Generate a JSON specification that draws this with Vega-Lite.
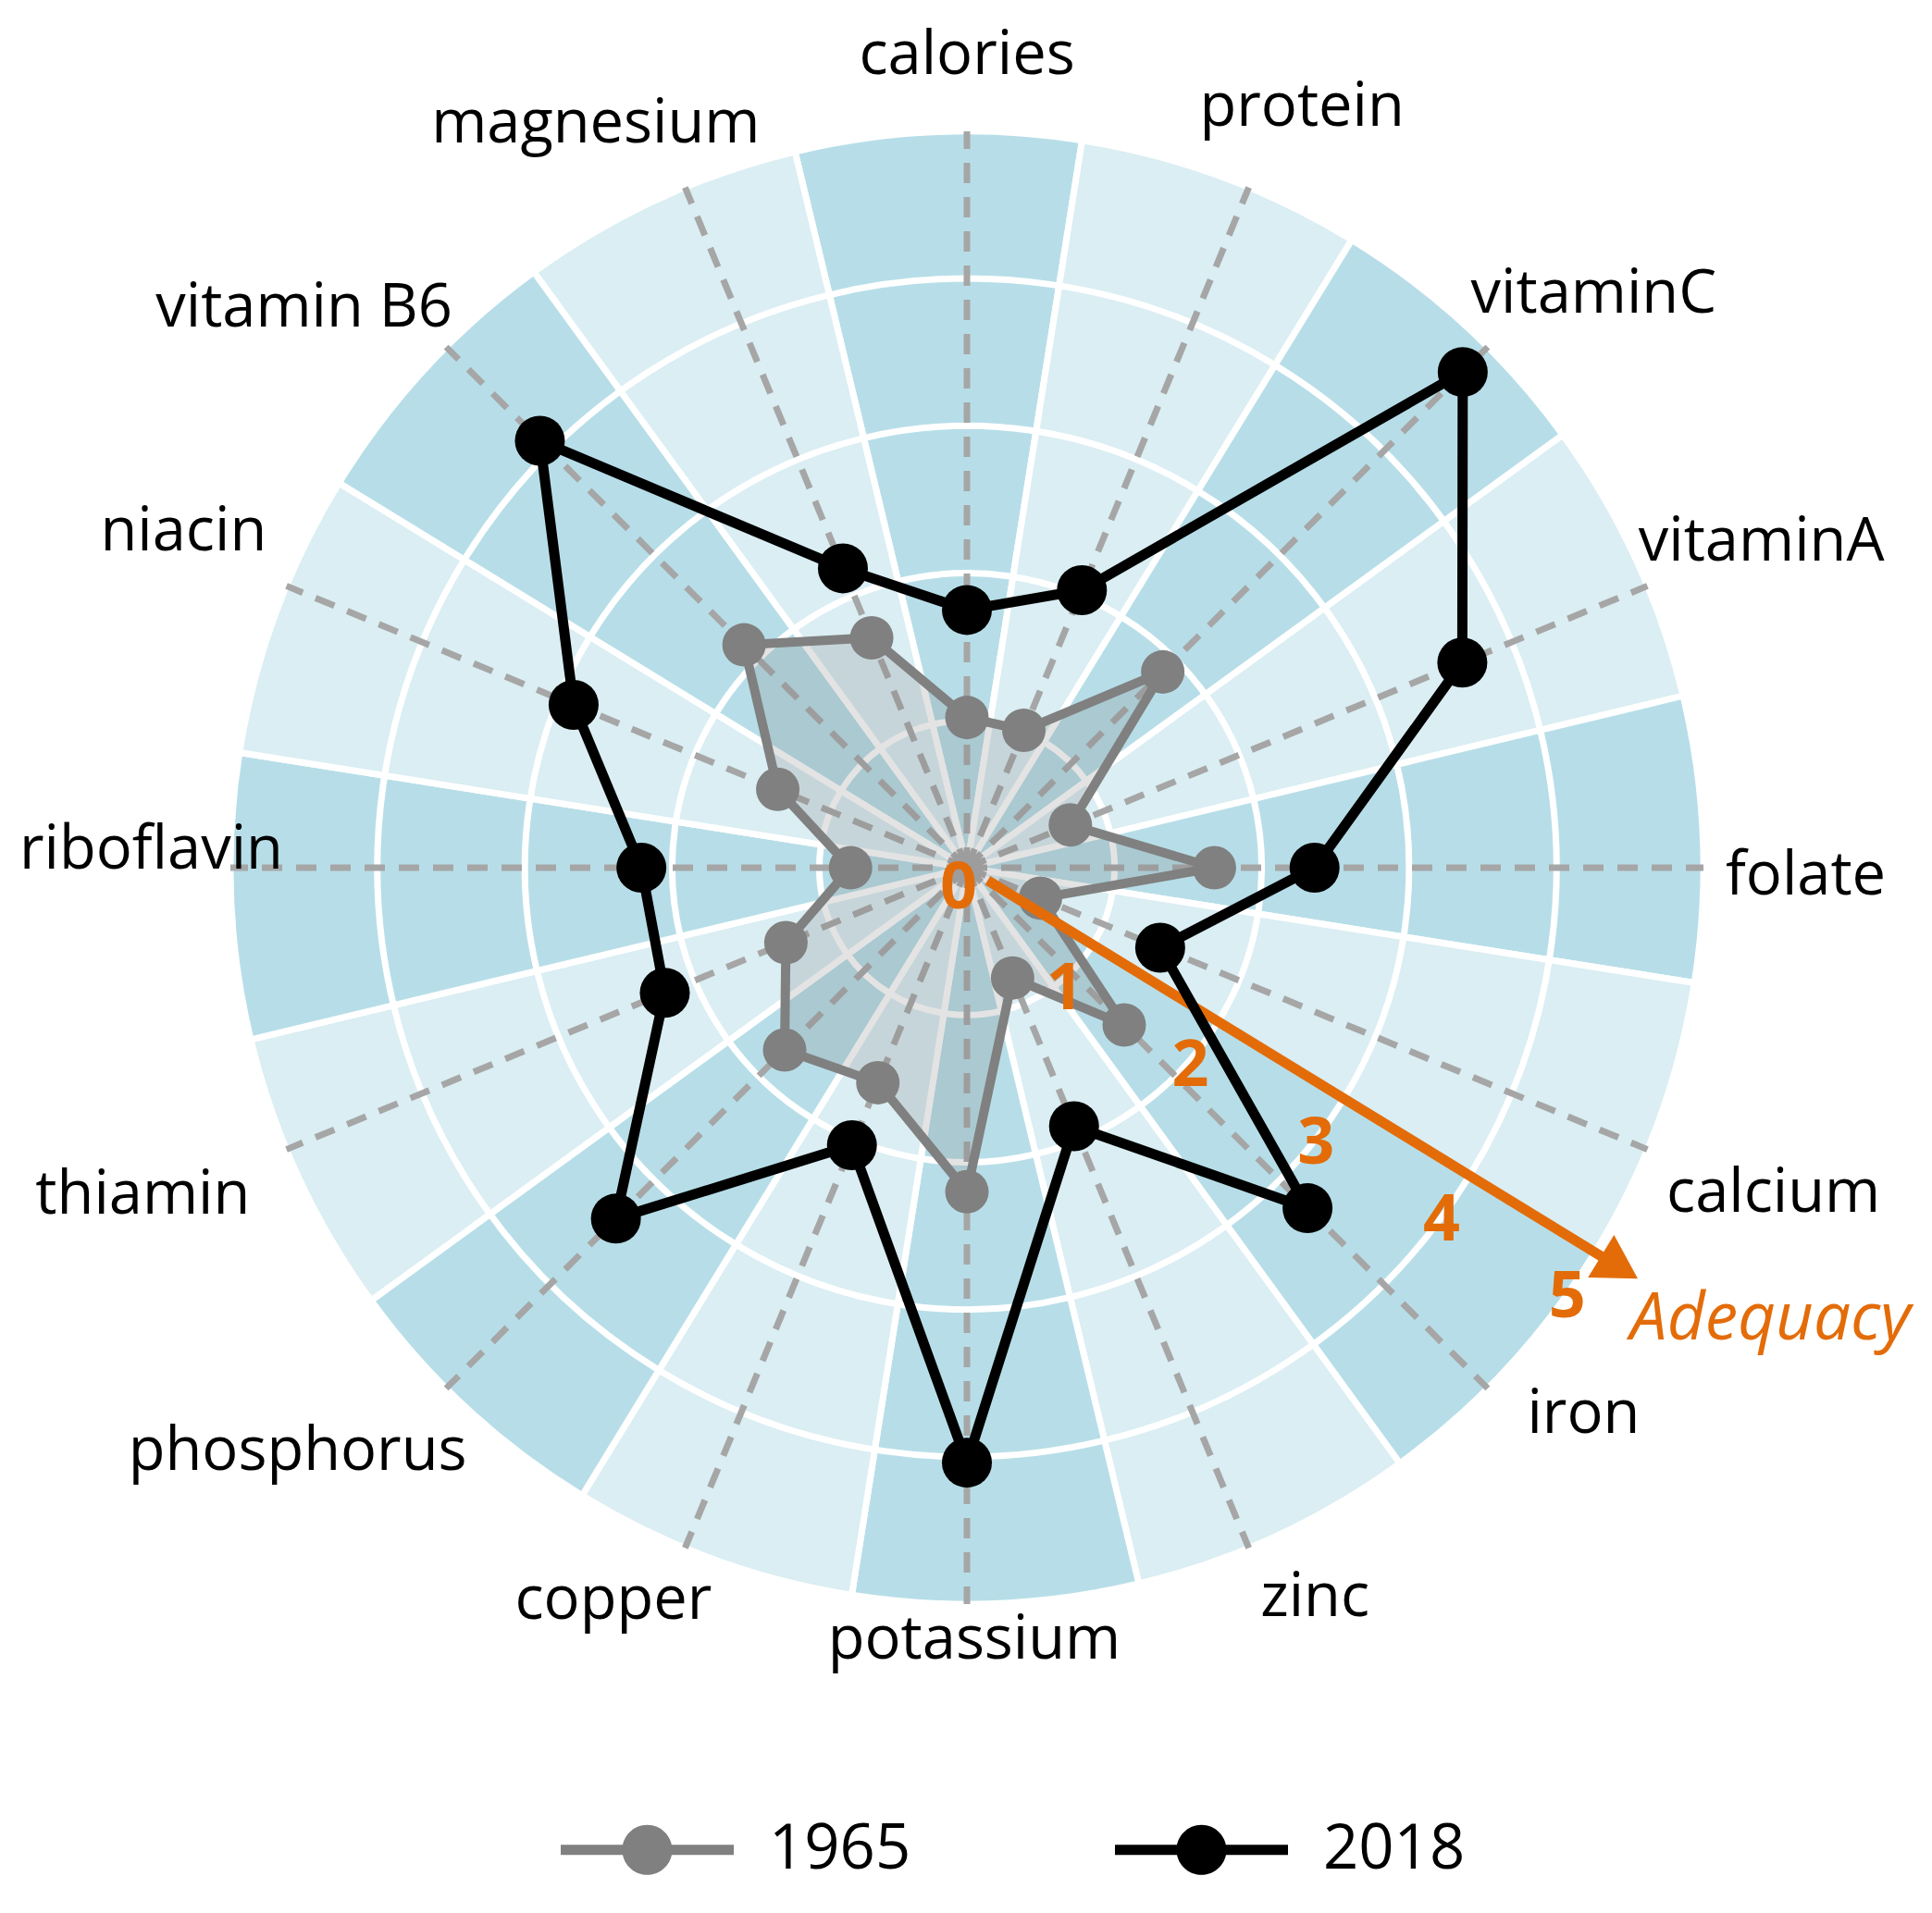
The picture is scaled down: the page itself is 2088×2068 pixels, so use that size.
{
  "$schema": "https://vega.github.io/schema/vega-lite/v6.json",
  "width": 2088,
  "height": 2068,
  "autosize": {"type": "none"},
  "padding": 0,
  "background": "white",
  "config": {"view": {"stroke": null}, "font": "Open Sans"},
  "datasets": {
    "cats": [
      {"idx": 0, "nutrient": "calories"},
      {"idx": 1, "nutrient": "protein"},
      {"idx": 2, "nutrient": "vitaminC"},
      {"idx": 3, "nutrient": "vitaminA"},
      {"idx": 4, "nutrient": "folate"},
      {"idx": 5, "nutrient": "calcium"},
      {"idx": 6, "nutrient": "iron"},
      {"idx": 7, "nutrient": "zinc"},
      {"idx": 8, "nutrient": "potassium"},
      {"idx": 9, "nutrient": "copper"},
      {"idx": 10, "nutrient": "phosphorus"},
      {"idx": 11, "nutrient": "thiamin"},
      {"idx": 12, "nutrient": "riboflavin"},
      {"idx": 13, "nutrient": "niacin"},
      {"idx": 14, "nutrient": "vitamin B6"},
      {"idx": 15, "nutrient": "magnesium"}
    ],
    "vals": [
      {"idx": 0, "nutrient": "calories", "year": "1965", "adequacy": 1.02},
      {"idx": 1, "nutrient": "protein", "year": "1965", "adequacy": 1.01},
      {"idx": 2, "nutrient": "vitaminC", "year": "1965", "adequacy": 1.88},
      {"idx": 3, "nutrient": "vitaminA", "year": "1965", "adequacy": 0.76},
      {"idx": 4, "nutrient": "folate", "year": "1965", "adequacy": 1.68},
      {"idx": 5, "nutrient": "calcium", "year": "1965", "adequacy": 0.54},
      {"idx": 6, "nutrient": "iron", "year": "1965", "adequacy": 1.51},
      {"idx": 7, "nutrient": "zinc", "year": "1965", "adequacy": 0.81},
      {"idx": 8, "nutrient": "potassium", "year": "1965", "adequacy": 2.20},
      {"idx": 9, "nutrient": "copper", "year": "1965", "adequacy": 1.58},
      {"idx": 10, "nutrient": "phosphorus", "year": "1965", "adequacy": 1.75},
      {"idx": 11, "nutrient": "thiamin", "year": "1965", "adequacy": 1.33},
      {"idx": 12, "nutrient": "riboflavin", "year": "1965", "adequacy": 0.79},
      {"idx": 13, "nutrient": "niacin", "year": "1965", "adequacy": 1.39},
      {"idx": 14, "nutrient": "vitamin B6", "year": "1965", "adequacy": 2.14},
      {"idx": 15, "nutrient": "magnesium", "year": "1965", "adequacy": 1.69},
      {"idx": 0, "nutrient": "calories", "year": "2018", "adequacy": 1.75},
      {"idx": 1, "nutrient": "protein", "year": "2018", "adequacy": 2.04},
      {"idx": 2, "nutrient": "vitaminC", "year": "2018", "adequacy": 4.76},
      {"idx": 3, "nutrient": "vitaminA", "year": "2018", "adequacy": 3.64},
      {"idx": 4, "nutrient": "folate", "year": "2018", "adequacy": 2.36},
      {"idx": 5, "nutrient": "calcium", "year": "2018", "adequacy": 1.42},
      {"idx": 6, "nutrient": "iron", "year": "2018", "adequacy": 3.27},
      {"idx": 7, "nutrient": "zinc", "year": "2018", "adequacy": 1.90},
      {"idx": 8, "nutrient": "potassium", "year": "2018", "adequacy": 4.04},
      {"idx": 9, "nutrient": "copper", "year": "2018", "adequacy": 2.04},
      {"idx": 10, "nutrient": "phosphorus", "year": "2018", "adequacy": 3.37},
      {"idx": 11, "nutrient": "thiamin", "year": "2018", "adequacy": 2.22},
      {"idx": 12, "nutrient": "riboflavin", "year": "2018", "adequacy": 2.21},
      {"idx": 13, "nutrient": "niacin", "year": "2018", "adequacy": 2.89},
      {"idx": 14, "nutrient": "vitamin B6", "year": "2018", "adequacy": 4.10},
      {"idx": 15, "nutrient": "magnesium", "year": "2018", "adequacy": 2.20}
    ],
    "rings": [{"r": 1}, {"r": 2}, {"r": 3}, {"r": 4}],
    "ticks": [
      {"tick": 0, "label": "0"},
      {"tick": 1, "label": "1"},
      {"tick": 2, "label": "2"},
      {"tick": 3, "label": "3"},
      {"tick": 4, "label": "4"},
      {"tick": 5, "label": "5"}
    ],
    "arrow": [{"from": 0.165, "to": 5.12, "head": 5.195, "tip": 5.34, "title": "Adequacy"}]
  },
  "data": {"name": "cats"},
  "transform": [
    {"calculate": "datum.idx * PI / 8", "as": "ang"},
    {"calculate": "datum.idx + 1", "as": "idx1"},
    {"calculate": "0", "as": "c0"},
    {"calculate": "5", "as": "rOut"},
    {"calculate": "5 * sin(datum.ang)", "as": "ex"},
    {"calculate": "5 * cos(datum.ang)", "as": "ey"},
    {"calculate": "5.6 * sin(datum.ang)", "as": "lx"},
    {"calculate": "5.6 * cos(datum.ang)", "as": "ly"}
  ],
  "layer": [
    {
      "mark": {"type": "arc", "stroke": "white", "strokeWidth": 7},
      "encoding": {
        "x": {"field": "c0", "type": "quantitative", "scale": {"domain": [-6.5641, 6.5515], "nice": false, "zero": false}, "axis": null},
        "y": {"field": "c0", "type": "quantitative", "scale": {"domain": [-7.098, 5.892], "nice": false, "zero": false}, "axis": null},
        "theta": {"field": "idx", "type": "quantitative", "stack": null, "scale": {"domain": [0, 16], "range": [-0.235619, 6.047566], "nice": false, "zero": false}},
        "theta2": {"field": "idx1"},
        "radius": {"field": "rOut", "type": "quantitative", "scale": {"type": "linear", "domain": [0, 5], "range": [0, 796], "zero": true, "nice": false}},
        "radius2": {"field": "c0"},
        "fill": {"condition": {"test": "datum.idx % 2 == 0", "value": "#B7DEE8"}, "value": "#DAEEF3"}
      }
    },
    {
      "data": {"name": "rings"},
      "transform": [
        {"calculate": "0", "as": "c0"},
        {"calculate": "16", "as": "full"}
      ],
      "mark": {"type": "arc", "filled": false, "stroke": "white", "strokeWidth": 7},
      "encoding": {
        "x": {"field": "c0", "type": "quantitative", "scale": {"domain": [-6.5641, 6.5515], "nice": false, "zero": false}, "axis": null},
        "y": {"field": "c0", "type": "quantitative", "scale": {"domain": [-7.098, 5.892], "nice": false, "zero": false}, "axis": null},
        "theta": {"field": "c0", "type": "quantitative", "stack": null, "scale": {"domain": [0, 16], "range": [-0.235619, 6.047566], "nice": false, "zero": false}},
        "theta2": {"field": "full"},
        "radius": {"field": "r", "type": "quantitative", "scale": {"type": "linear", "domain": [0, 5], "range": [0, 796], "zero": true, "nice": false}},
        "radius2": {"field": "r"}
      }
    },
    {
      "mark": {"type": "rule", "stroke": "#A6A6A6", "strokeWidth": 7, "strokeDash": [22, 15]},
      "encoding": {
        "x": {"field": "c0", "type": "quantitative", "scale": {"domain": [-6.5641, 6.5515], "nice": false, "zero": false}, "axis": null},
        "y": {"field": "c0", "type": "quantitative", "scale": {"domain": [-7.098, 5.892], "nice": false, "zero": false}, "axis": null},
        "x2": {"field": "ex"},
        "y2": {"field": "ey"}
      }
    },
    {
      "data": {"name": "vals"},
      "transform": [
        {"filter": "datum.year == '1965'"},
        {"calculate": "datum.adequacy * sin(datum.idx * PI / 8)", "as": "px"},
        {"calculate": "datum.adequacy * cos(datum.idx * PI / 8)", "as": "py"}
      ],
      "mark": {"type": "line", "interpolate": "linear-closed", "fill": "#7F7F7F", "fillOpacity": 0.22, "strokeOpacity": 0},
      "encoding": {
        "x": {"field": "px", "type": "quantitative", "scale": {"domain": [-6.5641, 6.5515], "nice": false, "zero": false}, "axis": null},
        "y": {"field": "py", "type": "quantitative", "scale": {"domain": [-7.098, 5.892], "nice": false, "zero": false}, "axis": null},
        "order": {"field": "idx", "type": "quantitative"}
      }
    },
    {
      "data": {"name": "vals"},
      "transform": [
        {"filter": "datum.year == '1965'"},
        {"calculate": "datum.adequacy * sin(datum.idx * PI / 8)", "as": "px"},
        {"calculate": "datum.adequacy * cos(datum.idx * PI / 8)", "as": "py"}
      ],
      "mark": {"type": "line", "interpolate": "linear-closed", "strokeWidth": 10, "stroke": "#808080"},
      "encoding": {
        "x": {"field": "px", "type": "quantitative", "scale": {"domain": [-6.5641, 6.5515], "nice": false, "zero": false}, "axis": null},
        "y": {"field": "py", "type": "quantitative", "scale": {"domain": [-7.098, 5.892], "nice": false, "zero": false}, "axis": null},
        "order": {"field": "idx", "type": "quantitative"}
      }
    },
    {
      "data": {"name": "vals"},
      "transform": [
        {"filter": "datum.year == '1965'"},
        {"calculate": "datum.adequacy * sin(datum.idx * PI / 8)", "as": "px"},
        {"calculate": "datum.adequacy * cos(datum.idx * PI / 8)", "as": "py"}
      ],
      "mark": {"type": "point", "filled": true, "opacity": 1, "size": 2209, "shape": "circle"},
      "encoding": {
        "x": {"field": "px", "type": "quantitative", "scale": {"domain": [-6.5641, 6.5515], "nice": false, "zero": false}, "axis": null},
        "y": {"field": "py", "type": "quantitative", "scale": {"domain": [-7.098, 5.892], "nice": false, "zero": false}, "axis": null},
        "color": {
          "field": "year", "type": "nominal",
          "scale": {"domain": ["1965", "2018"], "range": ["#808080", "#000000"]},
          "legend": {
            "orient": "none", "legendX": 606, "legendY": 1906, "direction": "horizontal", "title": null,
            "symbolType": "M-1,-0.059L1,-0.059L1,0.059L-1,0.059Z M0.289,0A0.289,0.289 0 1,1 -0.289,0A0.289,0.289 0 1,1 0.289,0Z",
            "symbolSize": 34969, "symbolStrokeWidth": 0, "symbolOpacity": 1,
            "labelFont": "Open Sans", "labelFontSize": 67, "labelColor": "#000000", "labelOffset": 38, "labelLimit": 500,
            "columnPadding": 220, "padding": 0
          }
        }
      }
    },
    {
      "data": {"name": "arrow"},
      "transform": [
        {"calculate": "datum.from * sin(121.5 * PI / 180)", "as": "ax"},
        {"calculate": "datum.from * cos(121.5 * PI / 180)", "as": "ay"},
        {"calculate": "datum.to * sin(121.5 * PI / 180)", "as": "bx"},
        {"calculate": "datum.to * cos(121.5 * PI / 180)", "as": "by"}
      ],
      "mark": {"type": "rule", "stroke": "#E36C09", "strokeWidth": 11},
      "encoding": {
        "x": {"field": "ax", "type": "quantitative", "scale": {"domain": [-6.5641, 6.5515], "nice": false, "zero": false}, "axis": null},
        "y": {"field": "ay", "type": "quantitative", "scale": {"domain": [-7.098, 5.892], "nice": false, "zero": false}, "axis": null},
        "x2": {"field": "bx"},
        "y2": {"field": "by"}
      }
    },
    {
      "data": {"name": "arrow"},
      "transform": [
        {"calculate": "datum.head * sin(121.5 * PI / 180)", "as": "hx"},
        {"calculate": "datum.head * cos(121.5 * PI / 180)", "as": "hy"}
      ],
      "mark": {"type": "point", "shape": "triangle-up", "filled": true, "opacity": 1, "size": 2900, "angle": 121.5, "color": "#E36C09"},
      "encoding": {
        "x": {"field": "hx", "type": "quantitative", "scale": {"domain": [-6.5641, 6.5515], "nice": false, "zero": false}, "axis": null},
        "y": {"field": "hy", "type": "quantitative", "scale": {"domain": [-7.098, 5.892], "nice": false, "zero": false}, "axis": null}
      }
    },
    {
      "data": {"name": "ticks"},
      "transform": [
        {"filter": "datum.tick > 0"},
        {"calculate": "datum.tick * sin(121.5 * PI / 180)", "as": "tx"},
        {"calculate": "datum.tick * cos(121.5 * PI / 180)", "as": "ty"}
      ],
      "mark": {"type": "text", "fontSize": 70, "fontWeight": "bold", "color": "#E36C09", "align": "center", "baseline": "middle", "dx": -30, "dy": 49},
      "encoding": {
        "x": {"field": "tx", "type": "quantitative", "scale": {"domain": [-6.5641, 6.5515], "nice": false, "zero": false}, "axis": null},
        "y": {"field": "ty", "type": "quantitative", "scale": {"domain": [-7.098, 5.892], "nice": false, "zero": false}, "axis": null},
        "text": {"field": "label", "type": "nominal"}
      }
    },
    {
      "data": {"name": "ticks"},
      "transform": [
        {"filter": "datum.tick == 0"},
        {"calculate": "datum.tick * sin(121.5 * PI / 180)", "as": "tx"},
        {"calculate": "datum.tick * cos(121.5 * PI / 180)", "as": "ty"}
      ],
      "mark": {"type": "text", "fontSize": 70, "fontWeight": "bold", "color": "#E36C09", "align": "center", "baseline": "middle", "dx": -9, "dy": 23},
      "encoding": {
        "x": {"field": "tx", "type": "quantitative", "scale": {"domain": [-6.5641, 6.5515], "nice": false, "zero": false}, "axis": null},
        "y": {"field": "ty", "type": "quantitative", "scale": {"domain": [-7.098, 5.892], "nice": false, "zero": false}, "axis": null},
        "text": {"field": "label", "type": "nominal"}
      }
    },
    {
      "data": {"name": "arrow"},
      "transform": [
        {"calculate": "datum.tip * sin(121.5 * PI / 180)", "as": "tx"},
        {"calculate": "datum.tip * cos(121.5 * PI / 180)", "as": "ty"}
      ],
      "mark": {"type": "text", "fontSize": 71, "fontStyle": "italic", "color": "#E36C09", "align": "left", "baseline": "middle", "dx": -8, "dy": 45},
      "encoding": {
        "x": {"field": "tx", "type": "quantitative", "scale": {"domain": [-6.5641, 6.5515], "nice": false, "zero": false}, "axis": null},
        "y": {"field": "ty", "type": "quantitative", "scale": {"domain": [-7.098, 5.892], "nice": false, "zero": false}, "axis": null},
        "text": {"field": "title", "type": "nominal"}
      }
    },
    {
      "data": {"name": "vals"},
      "transform": [
        {"filter": "datum.year == '2018'"},
        {"calculate": "datum.adequacy * sin(datum.idx * PI / 8)", "as": "px"},
        {"calculate": "datum.adequacy * cos(datum.idx * PI / 8)", "as": "py"}
      ],
      "mark": {"type": "line", "interpolate": "linear-closed", "strokeWidth": 11, "stroke": "#000000"},
      "encoding": {
        "x": {"field": "px", "type": "quantitative", "scale": {"domain": [-6.5641, 6.5515], "nice": false, "zero": false}, "axis": null},
        "y": {"field": "py", "type": "quantitative", "scale": {"domain": [-7.098, 5.892], "nice": false, "zero": false}, "axis": null},
        "order": {"field": "idx", "type": "quantitative"}
      }
    },
    {
      "data": {"name": "vals"},
      "transform": [
        {"filter": "datum.year == '2018'"},
        {"calculate": "datum.adequacy * sin(datum.idx * PI / 8)", "as": "px"},
        {"calculate": "datum.adequacy * cos(datum.idx * PI / 8)", "as": "py"}
      ],
      "mark": {"type": "point", "filled": true, "opacity": 1, "size": 2916, "shape": "circle"},
      "encoding": {
        "x": {"field": "px", "type": "quantitative", "scale": {"domain": [-6.5641, 6.5515], "nice": false, "zero": false}, "axis": null},
        "y": {"field": "py", "type": "quantitative", "scale": {"domain": [-7.098, 5.892], "nice": false, "zero": false}, "axis": null},
        "color": {
          "field": "year", "type": "nominal",
          "scale": {"domain": ["1965", "2018"], "range": ["#808080", "#000000"]},
          "legend": {
            "orient": "none", "legendX": 606, "legendY": 1906, "direction": "horizontal", "title": null,
            "symbolType": "M-1,-0.059L1,-0.059L1,0.059L-1,0.059Z M0.289,0A0.289,0.289 0 1,1 -0.289,0A0.289,0.289 0 1,1 0.289,0Z",
            "symbolSize": 34969, "symbolStrokeWidth": 0, "symbolOpacity": 1,
            "labelFont": "Open Sans", "labelFontSize": 67, "labelColor": "#000000", "labelOffset": 38, "labelLimit": 500,
            "columnPadding": 220, "padding": 0
          }
        }
      }
    },
    {"transform": [{"filter": "datum.idx == 0"}], "mark": {"type": "text", "fontSize": 65, "color": "#000000", "align": "center", "baseline": "middle", "dx": 0, "dy": 14},
     "encoding": {"x": {"field": "lx", "type": "quantitative", "scale": {"domain": [-6.5641, 6.5515], "nice": false, "zero": false}, "axis": null}, "y": {"field": "ly", "type": "quantitative", "scale": {"domain": [-7.098, 5.892], "nice": false, "zero": false}, "axis": null}, "text": {"field": "nutrient", "type": "nominal"}}},
    {"transform": [{"filter": "datum.idx == 1"}], "mark": {"type": "text", "fontSize": 65, "color": "#000000", "align": "center", "baseline": "middle", "dx": 21, "dy": 2},
     "encoding": {"x": {"field": "lx", "type": "quantitative", "scale": {"domain": [-6.5641, 6.5515], "nice": false, "zero": false}, "axis": null}, "y": {"field": "ly", "type": "quantitative", "scale": {"domain": [-7.098, 5.892], "nice": false, "zero": false}, "axis": null}, "text": {"field": "nutrient", "type": "nominal"}}},
    {"transform": [{"filter": "datum.idx == 2"}], "mark": {"type": "text", "fontSize": 65, "color": "#000000", "align": "center", "baseline": "middle", "dx": 47, "dy": 10},
     "encoding": {"x": {"field": "lx", "type": "quantitative", "scale": {"domain": [-6.5641, 6.5515], "nice": false, "zero": false}, "axis": null}, "y": {"field": "ly", "type": "quantitative", "scale": {"domain": [-7.098, 5.892], "nice": false, "zero": false}, "axis": null}, "text": {"field": "nutrient", "type": "nominal"}}},
    {"transform": [{"filter": "datum.idx == 3"}], "mark": {"type": "text", "fontSize": 65, "color": "#000000", "align": "center", "baseline": "middle", "dx": 35, "dy": -11},
     "encoding": {"x": {"field": "lx", "type": "quantitative", "scale": {"domain": [-6.5641, 6.5515], "nice": false, "zero": false}, "axis": null}, "y": {"field": "ly", "type": "quantitative", "scale": {"domain": [-7.098, 5.892], "nice": false, "zero": false}, "axis": null}, "text": {"field": "nutrient", "type": "nominal"}}},
    {"transform": [{"filter": "datum.idx == 4"}], "mark": {"type": "text", "fontSize": 65, "color": "#000000", "align": "center", "baseline": "middle", "dx": 15, "dy": 9},
     "encoding": {"x": {"field": "lx", "type": "quantitative", "scale": {"domain": [-6.5641, 6.5515], "nice": false, "zero": false}, "axis": null}, "y": {"field": "ly", "type": "quantitative", "scale": {"domain": [-7.098, 5.892], "nice": false, "zero": false}, "axis": null}, "text": {"field": "nutrient", "type": "nominal"}}},
    {"transform": [{"filter": "datum.idx == 5"}], "mark": {"type": "text", "fontSize": 65, "color": "#000000", "align": "center", "baseline": "middle", "dx": 48, "dy": 11},
     "encoding": {"x": {"field": "lx", "type": "quantitative", "scale": {"domain": [-6.5641, 6.5515], "nice": false, "zero": false}, "axis": null}, "y": {"field": "ly", "type": "quantitative", "scale": {"domain": [-7.098, 5.892], "nice": false, "zero": false}, "axis": null}, "text": {"field": "nutrient", "type": "nominal"}}},
    {"transform": [{"filter": "datum.idx == 6"}], "mark": {"type": "text", "fontSize": 65, "color": "#000000", "align": "center", "baseline": "middle", "dx": 36, "dy": -39},
     "encoding": {"x": {"field": "lx", "type": "quantitative", "scale": {"domain": [-6.5641, 6.5515], "nice": false, "zero": false}, "axis": null}, "y": {"field": "ly", "type": "quantitative", "scale": {"domain": [-7.098, 5.892], "nice": false, "zero": false}, "axis": null}, "text": {"field": "nutrient", "type": "nominal"}}},
    {"transform": [{"filter": "datum.idx == 7"}], "mark": {"type": "text", "fontSize": 65, "color": "#000000", "align": "center", "baseline": "middle", "dx": 35, "dy": -35},
     "encoding": {"x": {"field": "lx", "type": "quantitative", "scale": {"domain": [-6.5641, 6.5515], "nice": false, "zero": false}, "axis": null}, "y": {"field": "ly", "type": "quantitative", "scale": {"domain": [-7.098, 5.892], "nice": false, "zero": false}, "axis": null}, "text": {"field": "nutrient", "type": "nominal"}}},
    {"transform": [{"filter": "datum.idx == 8"}], "mark": {"type": "text", "fontSize": 65, "color": "#000000", "align": "center", "baseline": "middle", "dx": 8, "dy": -57},
     "encoding": {"x": {"field": "lx", "type": "quantitative", "scale": {"domain": [-6.5641, 6.5515], "nice": false, "zero": false}, "axis": null}, "y": {"field": "ly", "type": "quantitative", "scale": {"domain": [-7.098, 5.892], "nice": false, "zero": false}, "axis": null}, "text": {"field": "nutrient", "type": "nominal"}}},
    {"transform": [{"filter": "datum.idx == 9"}], "mark": {"type": "text", "fontSize": 65, "color": "#000000", "align": "center", "baseline": "middle", "dx": -41, "dy": -32},
     "encoding": {"x": {"field": "lx", "type": "quantitative", "scale": {"domain": [-6.5641, 6.5515], "nice": false, "zero": false}, "axis": null}, "y": {"field": "ly", "type": "quantitative", "scale": {"domain": [-7.098, 5.892], "nice": false, "zero": false}, "axis": null}, "text": {"field": "nutrient", "type": "nominal"}}},
    {"transform": [{"filter": "datum.idx == 10"}], "mark": {"type": "text", "fontSize": 65, "color": "#000000", "align": "center", "baseline": "middle", "dx": -93, "dy": 1},
     "encoding": {"x": {"field": "lx", "type": "quantitative", "scale": {"domain": [-6.5641, 6.5515], "nice": false, "zero": false}, "axis": null}, "y": {"field": "ly", "type": "quantitative", "scale": {"domain": [-7.098, 5.892], "nice": false, "zero": false}, "axis": null}, "text": {"field": "nutrient", "type": "nominal"}}},
    {"transform": [{"filter": "datum.idx == 11"}], "mark": {"type": "text", "fontSize": 65, "color": "#000000", "align": "center", "baseline": "middle", "dx": -67, "dy": 13},
     "encoding": {"x": {"field": "lx", "type": "quantitative", "scale": {"domain": [-6.5641, 6.5515], "nice": false, "zero": false}, "axis": null}, "y": {"field": "ly", "type": "quantitative", "scale": {"domain": [-7.098, 5.892], "nice": false, "zero": false}, "axis": null}, "text": {"field": "nutrient", "type": "nominal"}}},
    {"transform": [{"filter": "datum.idx == 12"}], "mark": {"type": "text", "fontSize": 65, "color": "#000000", "align": "center", "baseline": "middle", "dx": 10, "dy": -19},
     "encoding": {"x": {"field": "lx", "type": "quantitative", "scale": {"domain": [-6.5641, 6.5515], "nice": false, "zero": false}, "axis": null}, "y": {"field": "ly", "type": "quantitative", "scale": {"domain": [-7.098, 5.892], "nice": false, "zero": false}, "axis": null}, "text": {"field": "nutrient", "type": "nominal"}}},
    {"transform": [{"filter": "datum.idx == 13"}], "mark": {"type": "text", "fontSize": 65, "color": "#000000", "align": "center", "baseline": "middle", "dx": -23, "dy": -22},
     "encoding": {"x": {"field": "lx", "type": "quantitative", "scale": {"domain": [-6.5641, 6.5515], "nice": false, "zero": false}, "axis": null}, "y": {"field": "ly", "type": "quantitative", "scale": {"domain": [-7.098, 5.892], "nice": false, "zero": false}, "axis": null}, "text": {"field": "nutrient", "type": "nominal"}}},
    {"transform": [{"filter": "datum.idx == 14"}], "mark": {"type": "text", "fontSize": 65, "color": "#000000", "align": "center", "baseline": "middle", "dx": -86, "dy": 25},
     "encoding": {"x": {"field": "lx", "type": "quantitative", "scale": {"domain": [-6.5641, 6.5515], "nice": false, "zero": false}, "axis": null}, "y": {"field": "ly", "type": "quantitative", "scale": {"domain": [-7.098, 5.892], "nice": false, "zero": false}, "axis": null}, "text": {"field": "nutrient", "type": "nominal"}}},
    {"transform": [{"filter": "datum.idx == 15"}], "mark": {"type": "text", "fontSize": 65, "color": "#000000", "align": "center", "baseline": "middle", "dx": -60, "dy": 20},
     "encoding": {"x": {"field": "lx", "type": "quantitative", "scale": {"domain": [-6.5641, 6.5515], "nice": false, "zero": false}, "axis": null}, "y": {"field": "ly", "type": "quantitative", "scale": {"domain": [-7.098, 5.892], "nice": false, "zero": false}, "axis": null}, "text": {"field": "nutrient", "type": "nominal"}}}
  ]
}
